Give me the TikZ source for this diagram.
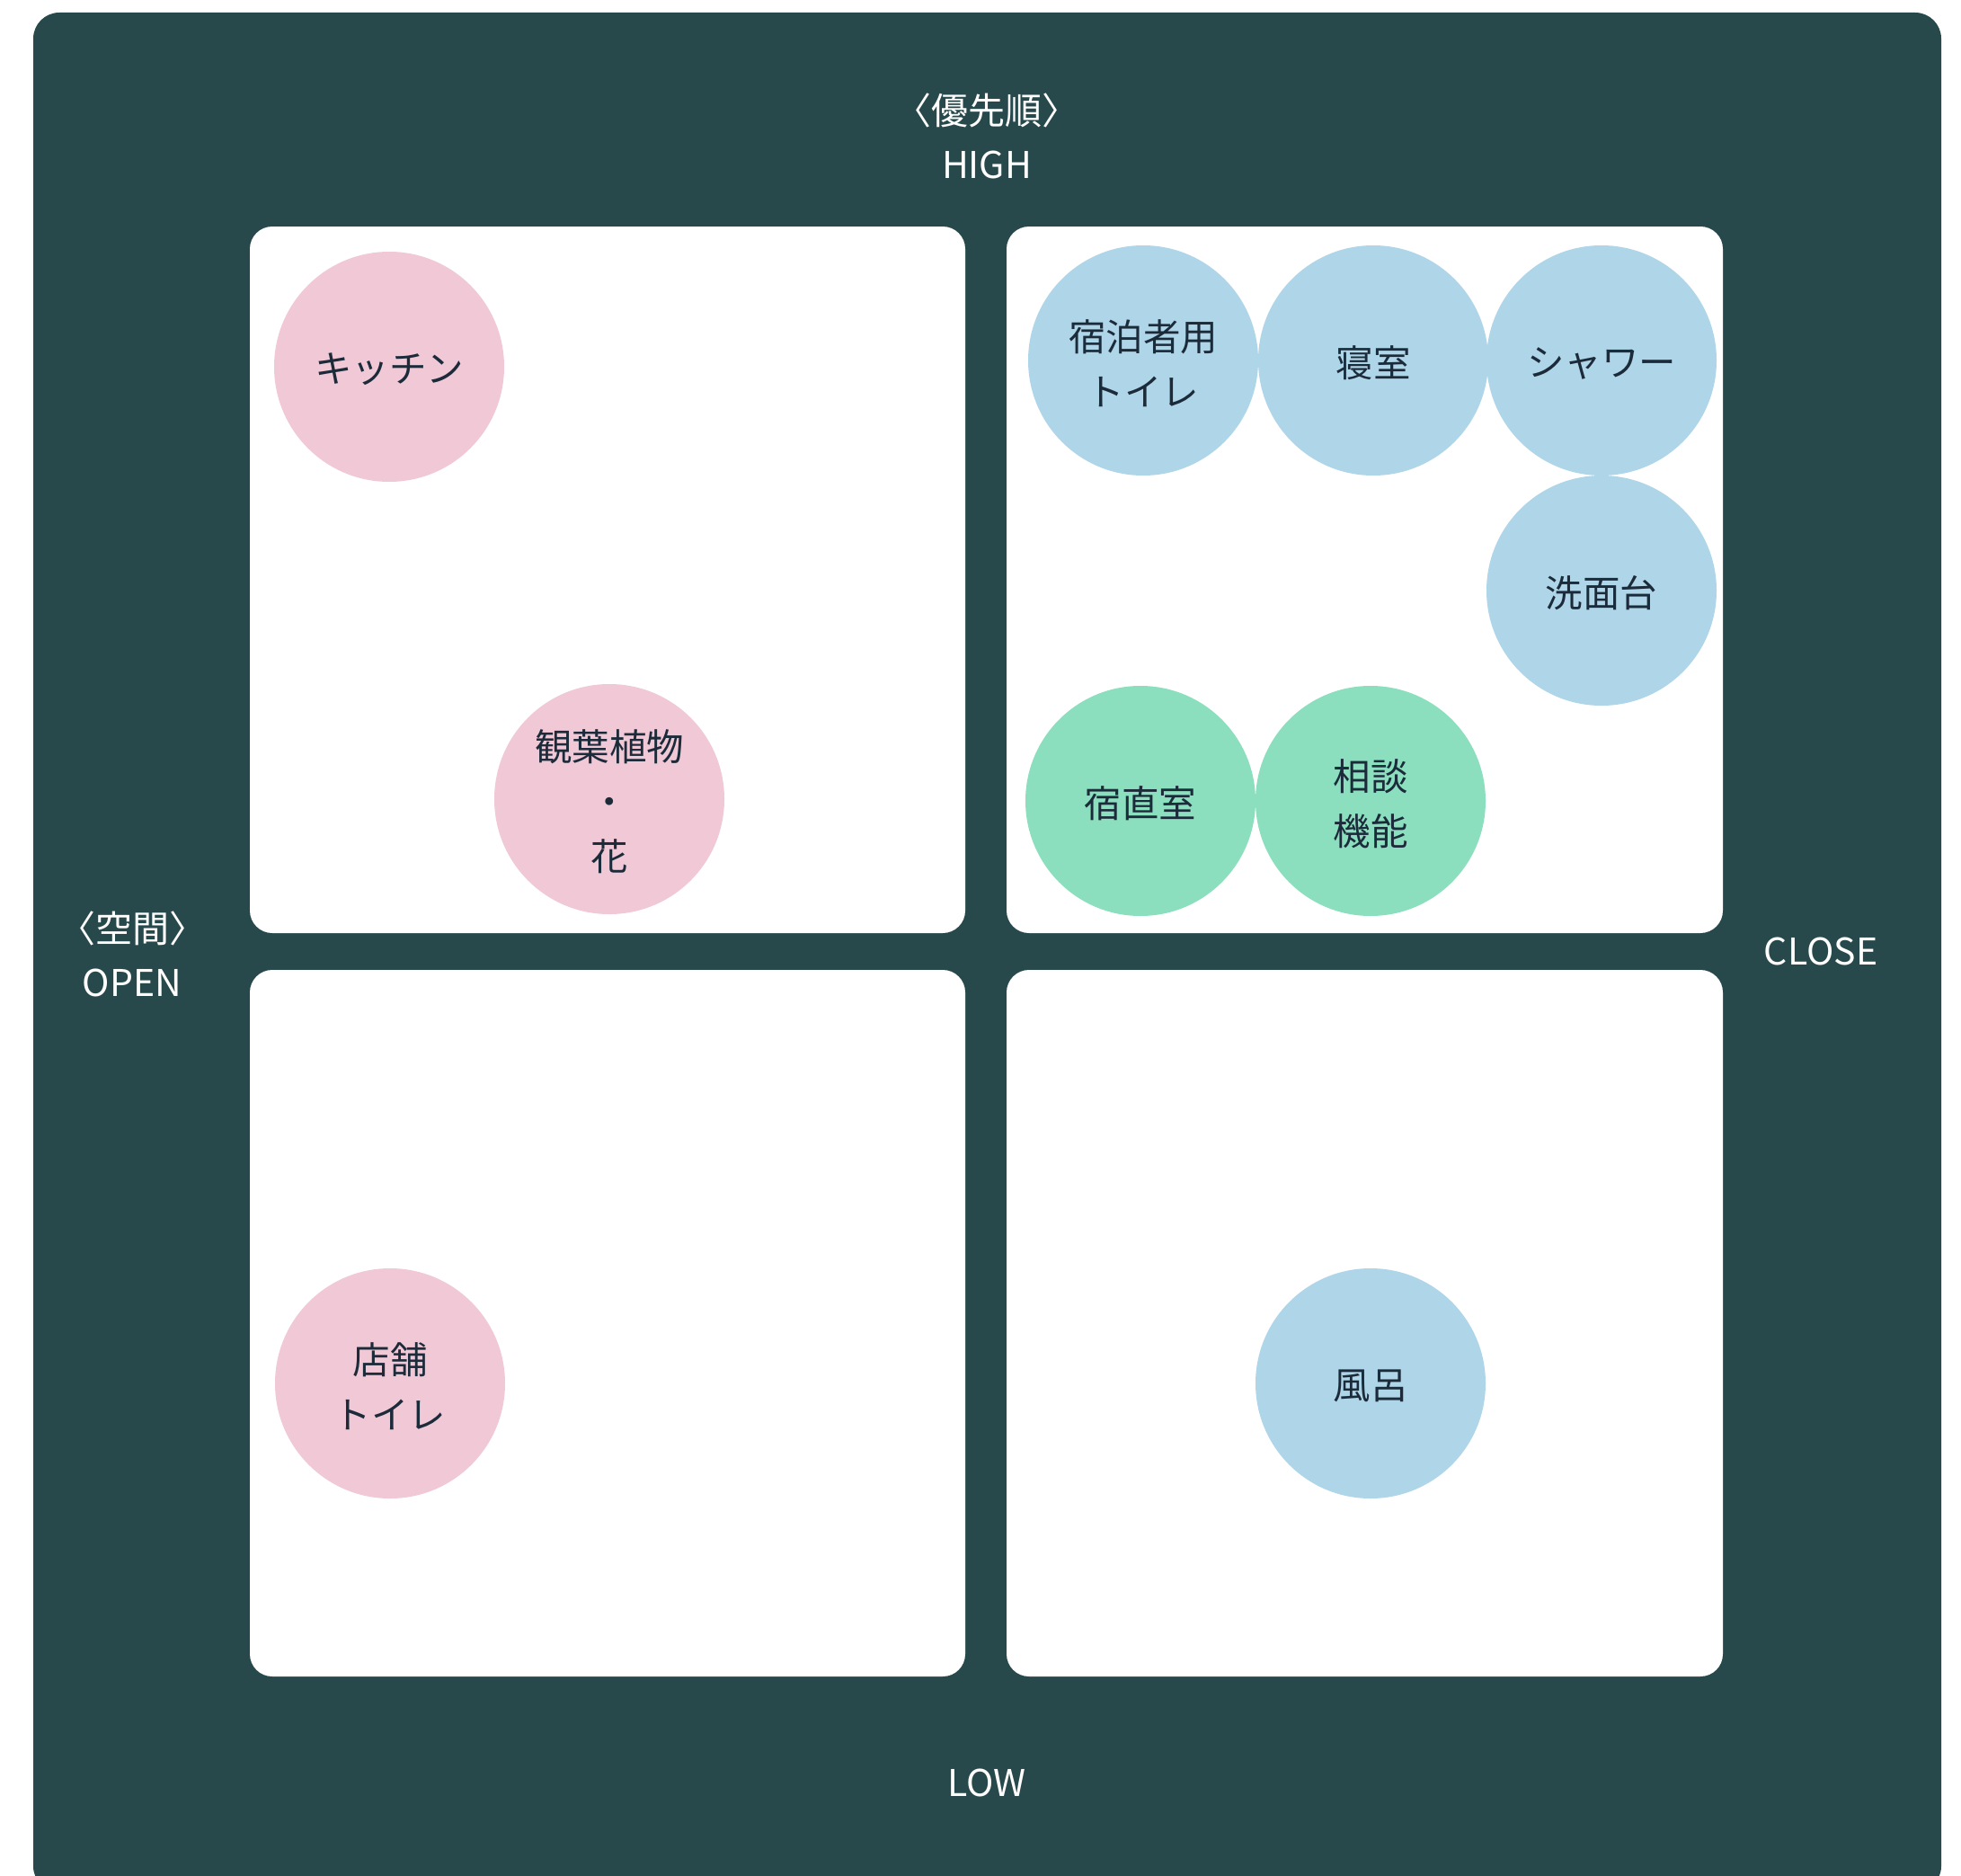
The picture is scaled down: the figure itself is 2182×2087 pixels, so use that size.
\documentclass[tikz,border=0pt]{standalone}
\usepackage{fontspec}
\setmainfont{Noto Sans CJK JP}
\definecolor{boardbg}{HTML}{27494B}
\definecolor{pinkfill}{HTML}{F1C8D6}
\definecolor{bluefill}{HTML}{AFD5E8}
\definecolor{greenfill}{HTML}{8CDFBE}
\definecolor{inktext}{HTML}{1C2B3A}
\begin{document}
\begin{tikzpicture}[x=1pt,y=-1pt,
  panel/.style={fill=white, rounded corners=25pt},
  room/.style={circle, minimum size=256pt, inner sep=0pt, align=center,
    text=inktext, font=\fontsize{41.5}{61}\selectfont},
  roomtext/.style={yshift=-3pt},
  pinkroom/.style={room, fill=pinkfill},
  blueroom/.style={room, fill=bluefill},
  greenroom/.style={room, fill=greenfill},
  axislabel/.style={text=white, align=center, inner sep=0pt,
    font=\fontsize{41}{60}\selectfont}]
  \useasboundingbox (0,0) rectangle (2182,2087);
  % dark board
  \fill[boardbg, rounded corners=29pt] (37,14) rectangle (2160,2105);
  % four quadrants
  \fill[panel] (278,252) rectangle (1074,1038);
  \fill[panel] (1120,252) rectangle (1917,1038);
  \fill[panel] (278,1079) rectangle (1074,1865);
  \fill[panel] (1120,1079) rectangle (1917,1865);
  % axis labels
  \node[axislabel] (high) at (1098,151) {〈優先順〉\\HIGH};
  \node[axislabel] (low) at (1098,1983) {LOW};
  \node[axislabel] (open) at (147,1061) {〈空間〉\\OPEN};
  \node[axislabel] (close) at (2026,1058) {CLOSE};
  % rooms: circle fills
  \node[pinkroom] (kitchen) at (433,408) {};
  \node[pinkroom] (plants) at (678,889) {};
  \node[pinkroom] (shoptoilet) at (434,1539) {};
  \node[blueroom] (guesttoilet) at (1272,401) {};
  \node[blueroom] (bedroom) at (1528,401) {};
  \node[blueroom] (shower) at (1782,401) {};
  \node[blueroom] (washbasin) at (1782,657) {};
  \node[greenroom] (nightroom) at (1269,891) {};
  \node[greenroom] (consult) at (1525,891) {};
  \node[blueroom] (bath) at (1525,1539) {};
  % rooms: names
  \begin{scope}[every node/.style={room, roomtext, minimum size=0pt}]
    \node (kitchenname) at (kitchen) {キッチン};
    \node (plantsname) at (plants) {観葉植物\\・\\花};
    \node (shoptoiletname) at (shoptoilet) {店舗\\トイレ};
    \node (guesttoiletname) at (guesttoilet) {宿泊者用\\トイレ};
    \node (bedroomname) at (bedroom) {寝室};
    \node (showername) at (shower) {シャワー};
    \node (washbasinname) at (washbasin) {洗面台};
    \node (nightroomname) at (nightroom) {宿直室};
    \node (consultname) at (consult) {相談\\機能};
    \node (bathname) at (bath) {風呂};
  \end{scope}
\end{tikzpicture}
\end{document}
